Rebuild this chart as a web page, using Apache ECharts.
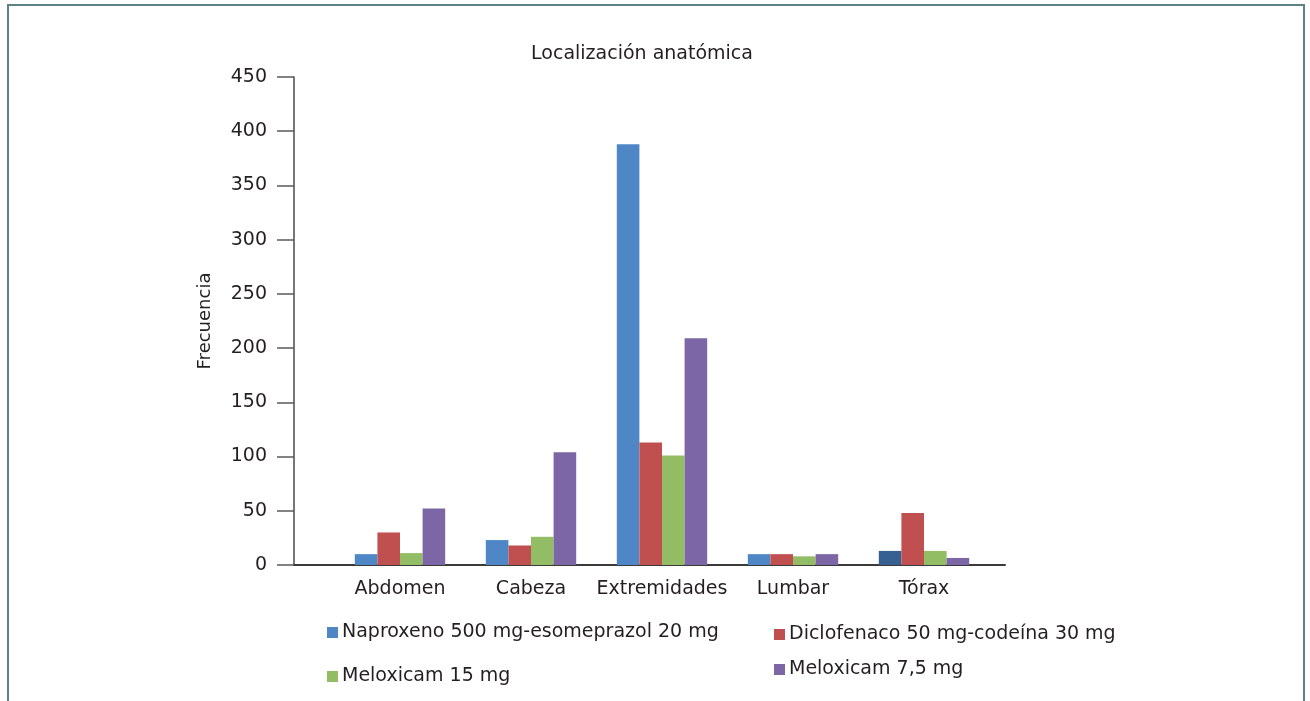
<!DOCTYPE html>
<html>
<head>
<meta charset="utf-8">
<script src="https://cdn.jsdelivr.net/npm/echarts@6/dist/echarts.min.js"></script>
<style>
html,body{margin:0;padding:0;background:#fff;}
#frame{position:absolute;left:7px;top:4px;width:1298px;height:720px;border-top:2px solid #5f8285;border-left:2px solid #5f8285;border-right:2px solid #5f8285;box-sizing:border-box;pointer-events:none;}
#chart{position:absolute;left:0;top:0;width:1310px;height:701px;}
</style>
</head>
<body>
<div id="frame"></div>
<div id="chart"></div>
<script>
const titleText = 'Localización anatómica';
const yAxisName = 'Frecuencia';
const categories = ['Abdomen', 'Cabeza', 'Extremidades', 'Lumbar', 'Tórax'];
const seriesNames = ['Naproxeno 500 mg-esomeprazol 20 mg', 'Diclofenaco 50 mg-codeína 30 mg', 'Meloxicam 15 mg', 'Meloxicam 7,5 mg'];
const naproxeno = [10, 23, 388, 10, 13];
const diclofenaco = [30, 18, 113, 10, 48];
const meloxicam15 = [11, 26, 101, 8, 13];
const meloxicam75 = [52, 104, 209, 10, 6.5];
const yTicks = [0, 50, 100, 150, 200, 250, 300, 350, 400, 450];

const colors = ['#4f87c6', '#c0504f', '#93bd64', '#7c66a5'];
const font = 'DejaVu Sans';
const textColor = '#231f20';
const values = [naproxeno, diclofenaco, meloxicam15, meloxicam75];

const series = seriesNames.map((n, i) => ({
  name: n,
  type: 'bar',
  xAxisIndex: 1,
  yAxisIndex: 1,
  barGap: '0%',
  barCategoryGap: '31%',
  itemStyle: { color: colors[i] },
  data: values[i].map((v, j) => (i === 0 && j === 4) ? { value: v, itemStyle: { color: '#376092' } } : v)
}));

const legendPos = [
  { left: 327, top: 623 },
  { left: 774, top: 625 },
  { left: 327, top: 667 },
  { left: 774, top: 660 }
];

const chart = echarts.init(document.getElementById('chart'), null, { renderer: 'canvas' });
chart.setOption({
  animation: false,
  backgroundColor: 'transparent',
  color: colors,
  title: {
    text: titleText,
    left: 637,
    textAlign: 'center',
    top: 40,
    textStyle: { fontFamily: font, fontSize: 19, fontWeight: 'normal', color: textColor }
  },
  legend: seriesNames.map((n, i) => ({
    data: [n],
    left: legendPos[i].left,
    top: legendPos[i].top,
    padding: 0,
    icon: 'rect',
    itemWidth: 11,
    itemHeight: 11,
    itemGap: 4,
    textStyle: { fontFamily: font, fontSize: 19, color: textColor, padding: [4, 0, 0, -1] }
  })),
  grid: [
    { left: 294, right: 305, top: 77, bottom: 136 },
    { left: 334.5, width: 655, top: 77, bottom: 136 }
  ],
  xAxis: [
    {
      gridIndex: 0, type: 'value', min: 0, max: 1,
      axisLine: { show: true, lineStyle: { color: '#3a3a3a', width: 2 } },
      axisTick: { show: false }, axisLabel: { show: false }, splitLine: { show: false }
    },
    {
      gridIndex: 1, type: 'category', data: categories,
      axisLine: { show: false }, axisTick: { show: false },
      axisLabel: { fontFamily: font, fontSize: 19, color: textColor, margin: 15, interval: 0 }
    }
  ],
  yAxis: [
    {
      gridIndex: 0, type: 'value', min: 0, max: 450, interval: 50,
      name: yAxisName, nameLocation: 'middle', nameGap: 80, nameRotate: 90,
      nameTextStyle: { fontFamily: font, fontSize: 18, color: textColor },
      axisLine: { show: true, lineStyle: { color: '#4a4a4a', width: 1.5 } },
      axisTick: { show: true, inside: false, length: 17, lineStyle: { color: '#5a5a5a', width: 1.5 } },
      axisLabel: { fontFamily: font, fontSize: 19, color: textColor, margin: 27,
        formatter: v => yTicks.includes(v) ? String(v) : '' },
      splitLine: { show: false }
    },
    {
      gridIndex: 1, type: 'value', min: 0, max: 450, show: false, splitLine: { show: false }
    }
  ],
  series: series
});
</script>
</body>
</html>
